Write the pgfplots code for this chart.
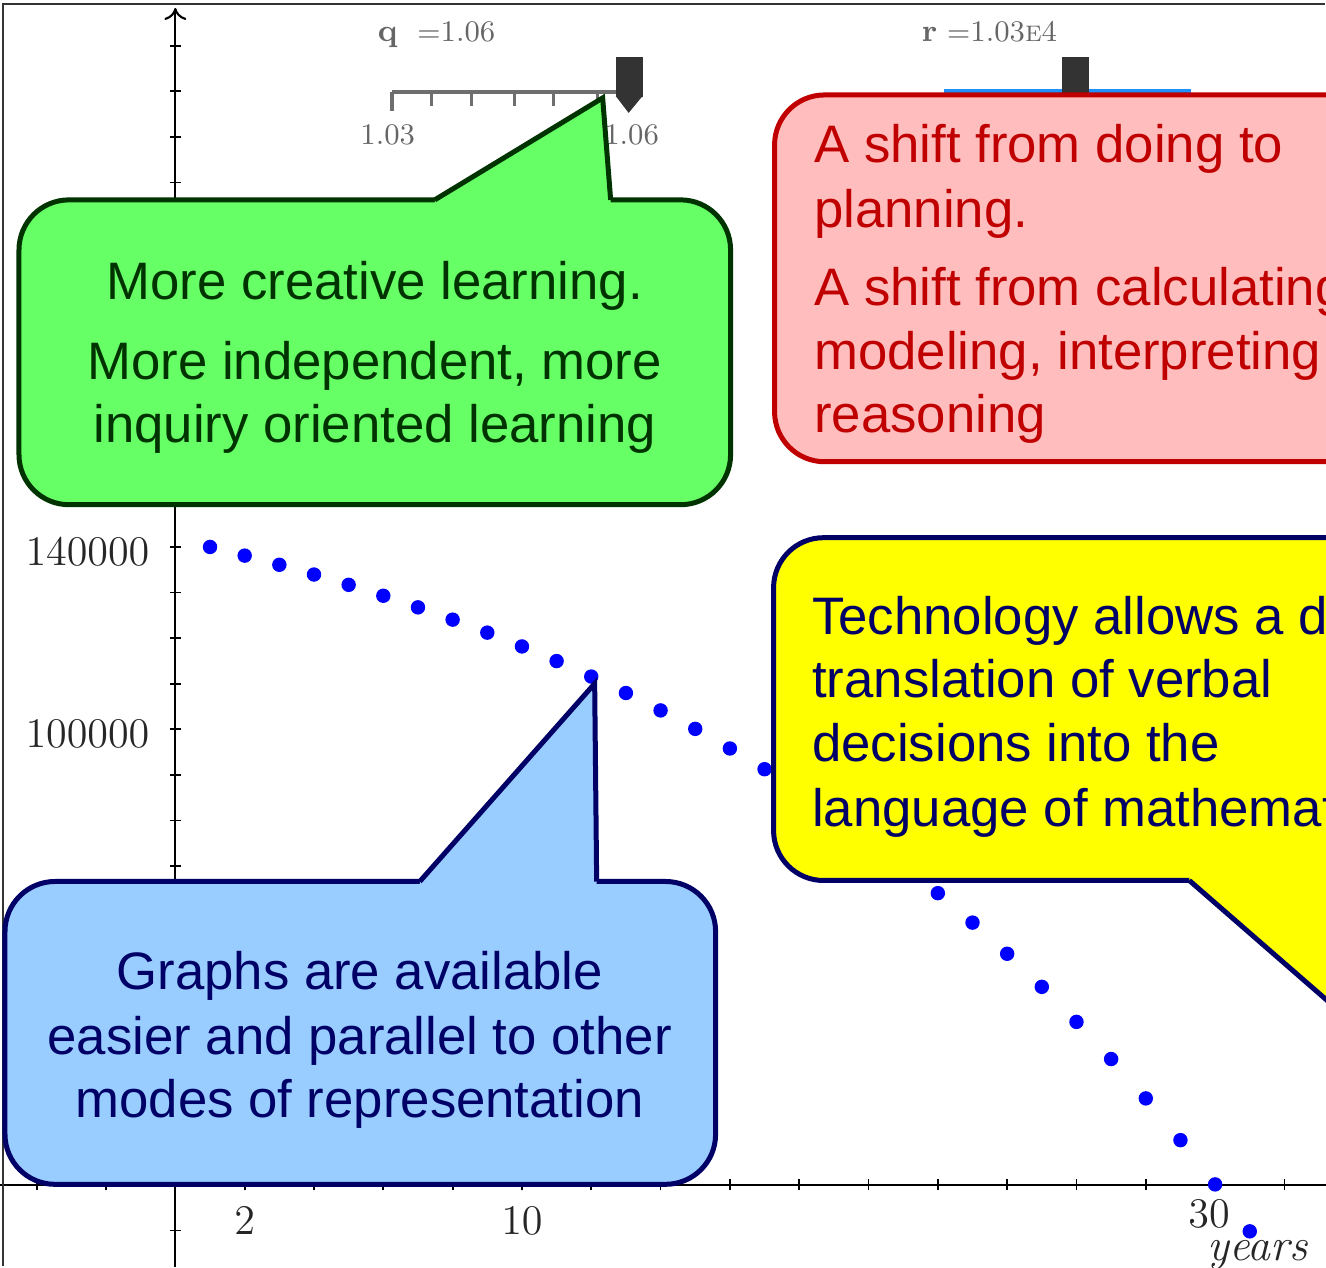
\documentclass[border=0pt]{standalone}
\usepackage{fontspec}
\usepackage{pgfplots}
\pgfplotsset{compat=1.18}
\usetikzlibrary{arrows.meta}
\newfontfamily\arial{Liberation Sans}
\definecolor{dotblue}{HTML}{0000FF}
\definecolor{greenfill}{HTML}{66FF66}
\definecolor{greenline}{HTML}{003300}
\definecolor{redfill}{HTML}{FFBDBD}
\definecolor{redline}{HTML}{C00000}
\definecolor{yellowfill}{HTML}{FFFF00}
\definecolor{navyline}{HTML}{000066}
\definecolor{bluefill}{HTML}{99CCFF}
\definecolor{sliderblue}{HTML}{1E90FF}
\definecolor{sliderline}{HTML}{6E6E6E}
\definecolor{knob}{HTML}{333333}

\begin{document}
\begin{tikzpicture}
\useasboundingbox (0,0) rectangle (13.26,12.67);
\clip (0,0) rectangle (13.26,12.67);
\begin{axis}[
  at={(0,0)}, anchor=south west,
  width=13.26cm, height=12.67cm, scale only axis,
  xmin=-5.06, xmax=33.2, ymin=-18000, ymax=260040,
  axis lines=middle,
  x axis line style={-, line width=0.6pt},
  y axis line style={-{To[length=0.12cm,width=0.22cm]}, line width=0.6pt, shorten >=0.08cm},
  xtick={2,10}, minor xtick={-4,-2,...,32},
  extra x ticks={30},
  extra x tick style={xticklabel style={yshift=0.07cm, xshift=-0.06cm}},
  ytick={100000,140000}, yticklabels={$100000$,$140000$},
  minor ytick={-10000,0,...,250000},
  tick align=center, major tick length=0.11cm, minor tick length=0.11cm,
  tick style={black, line width=0.5pt},
  tick label style={font=\fontsize{13}{13}\selectfont, text=black!85},
  yticklabel style={xshift=-0.08cm, yshift=-0.05cm},
  xticklabel style={yshift=-0.04cm},
  xlabel={\textit{years}},
  xlabel style={at={(rel axis cs:0.9487,0.0055)}, anchor=base,
    font=\fontsize{13}{13}\selectfont, text=black!85},
]
% balance after each year, q = 1.06, r = 10300
\addplot[only marks, mark=*, mark size=1.85pt, mark options={fill=dotblue, draw=dotblue}]
  coordinates {
  (1,140010) (2,138110) (3,136100) (4,133960) (5,131700) (6,129300)
  (7,126760) (8,124060) (9,121210) (10,118180) (11,114970) (12,111570)
  (13,107960) (14,104140) (15,100090) (16,95790) (17,91240) (18,86420)
  (19,81300) (20,75880) (21,70130) (22,64040) (23,57580) (24,50740)
  (25,43480) (26,35790) (27,27640) (28,19000) (29,9840) (30,130) (31,-10170)};
\end{axis}

% overlays in pixel units, origin top left
\begin{scope}[x=0.01cm, y=-0.01cm, yshift=12.67cm]
  \draw[black!80, line width=0.02cm] (3,1267) -- (3,4) -- (1326,4);

  % slider q
  \node[anchor=base, inner sep=0, text=black!60, font=\fontsize{9}{9}\selectfont] at (388,42) {\textbf{q}};
  \node[anchor=base west, inner sep=0, text=black!60, font=\fontsize{8.5}{9}\selectfont] at (417,42) {$=$1.06};
  \draw[sliderline, line width=0.04cm] (392,92) -- (616,92);
  \draw[sliderline, line width=0.04cm] (392,92) -- (392,111);
  \foreach \t in {432,472,515,554,598}
    \draw[sliderline, line width=0.03cm] (\t,92) -- (\t,106);
  \fill[knob] (616,57) rectangle (643,97);
  \fill[knob] (616,96) -- (643,96) -- (629,113) -- cycle;
  \node[anchor=base, inner sep=0, text=black!60, font=\fontsize{8.5}{9}\selectfont] at (388,145) {1.03};
  \node[anchor=base, inner sep=0, text=black!60, font=\fontsize{8.5}{9}\selectfont] at (632,145) {1.06};

  % slider r
  \node[anchor=base, inner sep=0, text=black!60, font=\fontsize{9}{9}\selectfont] at (930,42) {\textbf{r}};
  \node[anchor=base west, inner sep=0, text=black!60, font=\fontsize{8.5}{9}\selectfont] at (947,42) {$=$1.03\textsc{e}4};
  \draw[sliderblue, line width=0.035cm] (945,91) -- (1192,91);
  \fill[knob] (1063,57) rectangle (1090,95);

  % green callout
  \filldraw[fill=greenfill, draw=greenline, line width=0.05cm, rounded corners=0.5cm] (19,200) rectangle (731,505);
  \fill[greenfill] (435,200) -- (603,98) -- (611,200) -- (611,207) -- (435,207) -- cycle;
  \draw[greenline, line width=0.05cm, line join=miter] (435,200) -- (603,98) -- (611,200);
  \node[anchor=base, inner sep=0, text=greenline, font=\arial\fontsize{15}{18}\selectfont] at (375,300) {More creative learning.};
  \node[anchor=base, inner sep=0, text=greenline, font=\arial\fontsize{15}{18}\selectfont] at (375,380) {More independent, more};
  \node[anchor=base, inner sep=0, text=greenline, font=\arial\fontsize{15}{18}\selectfont] at (375,443) {inquiry oriented learning};

  % red callout
  \filldraw[fill=redfill, draw=redline, line width=0.05cm, rounded corners=0.5cm] (775,95) rectangle (1520,462);
  \node[anchor=base west, inner sep=0, text=redline, font=\arial\fontsize{15}{18}\selectfont] at (814,163) {A shift from doing to};
  \node[anchor=base west, inner sep=0, text=redline, font=\arial\fontsize{15}{18}\selectfont] at (814,228) {planning.};
  \node[anchor=base west, inner sep=0, text=redline, font=\arial\fontsize{15}{18}\selectfont] at (814,306) {A shift from calculating to};
  \node[anchor=base west, inner sep=0, text=redline, font=\arial\fontsize{15}{18}\selectfont] at (814,370) {modeling, interpreting and};
  \node[anchor=base west, inner sep=0, text=redline, font=\arial\fontsize{15}{18}\selectfont] at (814,433) {reasoning};

  % yellow callout
  \filldraw[fill=yellowfill, draw=navyline, line width=0.05cm, rounded corners=0.5cm] (774,538) rectangle (1520,881);
  \fill[yellowfill] (1190,881) -- (1491,1143) -- (1470,881) -- (1470,874) -- (1190,874) -- cycle;
  \draw[navyline, line width=0.05cm, line join=miter] (1190,881) -- (1491,1143) -- (1470,881);
  \node[anchor=base west, inner sep=0, text=navyline, font=\arial\fontsize{15}{18}\selectfont] at (812,635) {Technology allows a direct};
  \node[anchor=base west, inner sep=0, text=navyline, font=\arial\fontsize{15}{18}\selectfont] at (812,698) {translation of verbal};
  \node[anchor=base west, inner sep=0, text=navyline, font=\arial\fontsize{15}{18}\selectfont] at (812,762) {decisions into the};
  \node[anchor=base west, inner sep=0, text=navyline, font=\arial\fontsize{15}{18}\selectfont] at (812,827) {language of mathematics};

  % blue callout
  \filldraw[fill=bluefill, draw=navyline, line width=0.05cm, rounded corners=0.5cm] (5,882) rectangle (716,1185);
  \fill[bluefill] (420,882) -- (595,684) -- (597,882) -- (597,889) -- (420,889) -- cycle;
  \draw[navyline, line width=0.05cm, line join=miter] (420,882) -- (595,684) -- (597,882);
  \node[anchor=base, inner sep=0, text=navyline, font=\arial\fontsize{15}{18}\selectfont] at (360,990) {Graphs are available};
  \node[anchor=base, inner sep=0, text=navyline, font=\arial\fontsize{15}{18}\selectfont] at (360,1055) {easier and parallel to other};
  \node[anchor=base, inner sep=0, text=navyline, font=\arial\fontsize{15}{18}\selectfont] at (360,1118) {modes of representation};
\end{scope}
\end{tikzpicture}
\end{document}
